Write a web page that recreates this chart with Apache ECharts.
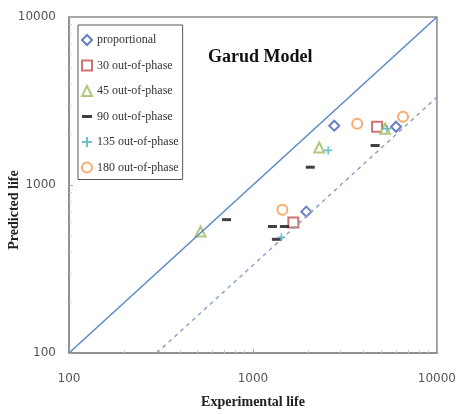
<!DOCTYPE html>
<html>
<head>
<meta charset="utf-8">
<script src="https://cdn.jsdelivr.net/npm/echarts@6/dist/echarts.min.js"></script>
<style>
  html, body { margin: 0; padding: 0; background: #fff; }
  #chart { width: 459px; height: 414px; }
</style>
</head>
<body>
<div id="chart"></div>
<script>
  // [experimental, predicted]
  const proportional = [[1950, 694], [2767, 2254], [5995, 2223]]
  const outOfPhase30 = [[1658, 598], [4730, 2223]]
  const outOfPhase45 = [[519, 529], [2292, 1673], [5226, 2165]]
  const outOfPhase90 = [[718, 622], [2049, 1276], [4613, 1719], [1276, 566], [1482, 566], [1341, 475]]
  const outOfPhase135 = [[1427, 488], [2566, 1607], [5350, 2165]]
  const outOfPhase180 = [[1445, 713], [3687, 2316], [6544, 2546]]

  const perfectLine = [[100, 100], [10000, 10000]]
  const factor3Line = [[300, 100], [10000, 3333]]

  const serif = 'Liberation Serif'
  const dashSymbol = 'path://M0,0H10V3H0Z'
  const plusSymbol = 'path://M4,0H6V10H4Z M0,4H10V6H0Z'

  const myChart = echarts.init(document.getElementById('chart'))
  const option = {
    backgroundColor: '#fff',
    animation: false,
    title: {
      text: 'Garud Model',
      left: 203,
      top: 43,
      textStyle: {
        fontFamily: serif,
        fontWeight: 'bold',
        fontSize: 18,
        color: '#111'
      }
    },
    graphic: [{
      type: 'text',
      x: 14,
      y: 210,
      rotation: Math.PI / 2,
      style: {
        text: 'Predicted life',
        font: 'bold 14px "Liberation Serif"',
        fill: '#222',
        align: 'center',
        verticalAlign: 'middle'
      }
    }],
    legend: {
      orient: 'vertical',
      left: 78,
      top: 25,
      padding: [9, 4, 6, 3],
      itemGap: 13.5,
      itemWidth: 10,
      itemHeight: 10,
      borderColor: '#555',
      borderWidth: 1,
      backgroundColor: '#fff',
      textStyle: {
        fontFamily: serif,
        fontSize: 12,
        color: '#333'
      },
      data: [
        { name: 'proportional' },
        { name: '30 out-of-phase' },
        { name: '45 out-of-phase' },
        { name: '90 out-of-phase' },
        { name: '135 out-of-phase' },
        { name: '180 out-of-phase' }
      ]
    },
    grid: {
      left: 69,
      right: 21,
      top: 17,
      bottom: 57,
      show: true,
      borderColor: '#8a8a8a',
      borderWidth: 1.5
    },
    xAxis: {
      type: 'log',
      min: 100,
      max: 10000,
      logBase: 10,
      name: 'Experimental life',
      nameLocation: 'middle',
      nameGap: 42,
      nameTextStyle: {
        fontFamily: serif,
        fontWeight: 'bold',
        fontSize: 14,
        color: '#222'
      },
      axisLine: { lineStyle: { color: '#8a8a8a', width: 1.5 } },
      axisTick: { inside: true, length: 4, lineStyle: { color: '#aaa' } },
      minorTick: { show: true, splitNumber: 9, length: 3, lineStyle: { color: '#ccc' } },
      splitLine: { show: false },
      axisLabel: {
        margin: 20,
        fontFamily: 'DejaVu Sans',
        fontSize: 12,
        color: '#555',
        formatter: (v) => String(v)
      }
    },
    yAxis: {
      type: 'log',
      min: 100,
      max: 10000,
      logBase: 10,
      axisLine: { lineStyle: { color: '#8a8a8a', width: 1.5 } },
      axisTick: { inside: true, length: 4, lineStyle: { color: '#aaa' } },
      minorTick: { show: true, splitNumber: 9, length: 3, lineStyle: { color: '#ccc' } },
      splitLine: { show: false },
      axisLabel: {
        margin: 13,
        fontFamily: 'DejaVu Sans',
        fontSize: 12,
        color: '#555',
        formatter: (v) => String(v)
      }
    },
    series: [{
        name: 'perfect',
        type: 'line',
        data: perfectLine,
        symbol: 'none',
        silent: true,
        lineStyle: { color: '#5b87c6', width: 1.5 }
      },
      {
        name: 'factor 3',
        type: 'line',
        data: factor3Line,
        symbol: 'none',
        silent: true,
        lineStyle: { color: '#8fa3c8', width: 1.5, type: [4, 4] }
      },
      {
        name: 'proportional',
        type: 'scatter',
        data: proportional,
        symbol: 'emptyDiamond',
        symbolSize: 10,
        itemStyle: { color: '#3f62b0', borderWidth: 1.5 }
      },
      {
        name: '30 out-of-phase',
        type: 'scatter',
        data: outOfPhase30,
        symbol: 'emptyRect',
        symbolSize: 10,
        itemStyle: { color: '#c0504d', borderWidth: 1.5 }
      },
      {
        name: '45 out-of-phase',
        type: 'scatter',
        data: outOfPhase45,
        symbol: 'emptyTriangle',
        symbolSize: 10,
        itemStyle: { color: '#9bbb59', borderWidth: 1.5 }
      },
      {
        name: '90 out-of-phase',
        type: 'scatter',
        data: outOfPhase90,
        symbol: dashSymbol,
        symbolSize: [9, 3],
        itemStyle: { color: '#111' }
      },
      {
        name: '135 out-of-phase',
        type: 'scatter',
        data: outOfPhase135,
        symbol: plusSymbol,
        symbolSize: 8,
        itemStyle: { color: '#4bacc6' }
      },
      {
        name: '180 out-of-phase',
        type: 'scatter',
        data: outOfPhase180,
        symbol: 'emptyCircle',
        symbolSize: 10,
        itemStyle: { color: '#f79646', borderWidth: 1.5 }
      }
    ]
  }
  myChart.setOption(option)
</script>
</body>
</html>
